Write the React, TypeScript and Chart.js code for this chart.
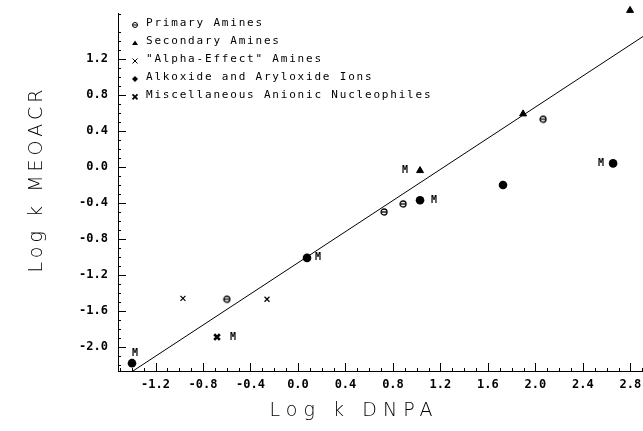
import React, { useEffect, useRef } from "react";
import { Chart, registerables } from "chart.js";
Chart.register(...registerables);

// ---- data ----
const xTicks = [-1.2, -0.8, -0.4, 0.0, 0.4, 0.8, 1.2, 1.6, 2.0, 2.4, 2.8];
const yTicks = [-2.0, -1.6, -1.2, -0.8, -0.4, 0.0, 0.4, 0.8, 1.2];
const xRange = [-1.516, 2.906];
const yRange = [-2.267, 1.711];
const minorStep = 0.1;

const primaryX = [-0.6, 0.725, 0.885, 2.064];
const primaryY = [-1.47, -0.5, -0.41, 0.53];
const secondaryX = [1.028, 1.896, 2.797];
const secondaryY = [-0.04, 0.59, 1.74];
const alphaX = [-0.969, -0.261];
const alphaY = [-1.46, -1.47];
const alkoxideX = [-1.398, 0.076, 1.028, 1.727, 2.654];
const alkoxideY = [-2.18, -1.01, -0.37, -0.2, 0.04];
const miscX = [-0.682];
const miscY = [-1.89];
const fitX = [-1.39, 2.906];
const fitY = [-2.267, 1.45];

const seriesLabels = [
  "Primary Amines",
  "Secondary Amines",
  "\"Alpha-Effect\" Amines",
  "Alkoxide and Aryloxide Ions",
  "Miscellaneous Anionic Nucleophiles",
];

// "M" annotations: [dataset index, point index, dx, dy]
const mNotes: [number, number, number, number][] = [
  [3, 0, 3, -10],
  [4, 0, 16, 0],
  [3, 1, 11, 0],
  [1, 0, -15, 0],
  [3, 2, 14, 0],
  [3, 4, -12, 0],
];

const xTitle = "Log k DNPA";
const yTitle = "Log k MEOACR";

const pts = (xs: number[], ys: number[]) => xs.map((x, i) => ({ x, y: ys[i] }));

function thetaMarker(r: number, lw: number) {
  const c = document.createElement("canvas");
  const s = Math.ceil(2 * r + lw + 2);
  c.width = s;
  c.height = s;
  const g = c.getContext("2d")!;
  g.strokeStyle = "#000";
  g.lineWidth = lw;
  g.beginPath();
  g.arc(s / 2, s / 2, r, 0, Math.PI * 2);
  g.stroke();
  g.beginPath();
  g.moveTo(s / 2 - r, s / 2);
  g.lineTo(s / 2 + r, s / 2);
  g.stroke();
  return c;
}

function drawSpaced(ctx: CanvasRenderingContext2D, text: string, cx: number, cy: number, target: number) {
  (ctx as any).letterSpacing = "0px";
  const w = ctx.measureText(text).width;
  const n = text.length;
  const ls = n > 1 ? (target - w) / (n - 1) : 0;
  (ctx as any).letterSpacing = ls + "px";
  ctx.textAlign = "left";
  ctx.textBaseline = "middle";
  ctx.fillText(text, cx - target / 2, cy);
  (ctx as any).letterSpacing = "0px";
}

function legendMarker(ctx: CanvasRenderingContext2D, kind: number, x: number, y: number) {
  ctx.save();
  ctx.strokeStyle = "#000";
  ctx.fillStyle = "#000";
  ctx.lineWidth = 1;
  ctx.beginPath();
  if (kind === 0) {
    ctx.arc(x, y, 2.5, 0, Math.PI * 2);
    ctx.moveTo(x - 2.5, y);
    ctx.lineTo(x + 2.5, y);
    ctx.stroke();
  } else if (kind === 1) {
    ctx.moveTo(x, y - 2.5);
    ctx.lineTo(x + 3, y + 2);
    ctx.lineTo(x - 3, y + 2);
    ctx.closePath();
    ctx.fill();
  } else if (kind === 2) {
    ctx.moveTo(x - 2.5, y - 2.5);
    ctx.lineTo(x + 2.5, y + 2.5);
    ctx.moveTo(x + 2.5, y - 2.5);
    ctx.lineTo(x - 2.5, y + 2.5);
    ctx.stroke();
  } else if (kind === 3) {
    ctx.moveTo(x, y - 3);
    ctx.lineTo(x + 3, y);
    ctx.lineTo(x, y + 3);
    ctx.lineTo(x - 3, y);
    ctx.closePath();
    ctx.fill();
  } else {
    ctx.lineWidth = 1.8;
    ctx.moveTo(x - 2.5, y - 2.5);
    ctx.lineTo(x + 2.5, y + 2.5);
    ctx.moveTo(x + 2.5, y - 2.5);
    ctx.lineTo(x - 2.5, y + 2.5);
    ctx.stroke();
  }
  ctx.restore();
}

const overlay = {
  id: "overlay",
  afterDatasetsDraw(chart: any) {
    const ctx: CanvasRenderingContext2D = chart.ctx;
    const xs = chart.scales.x;
    const ys = chart.scales.y;
    const { left, bottom } = chart.chartArea;
    ctx.save();
    ctx.strokeStyle = "#000";
    ctx.lineWidth = 1;
    ctx.beginPath();
    xTicks.forEach((v) => {
      const px = Math.round(xs.getPixelForValue(v)) + 0.5;
      ctx.moveTo(px, bottom);
      ctx.lineTo(px, bottom - 8);
    });
    yTicks.forEach((v) => {
      const py = Math.round(ys.getPixelForValue(v)) + 0.5;
      ctx.moveTo(left, py);
      ctx.lineTo(left + 8, py);
    });
    for (let k = Math.ceil(xRange[0] / minorStep); k * minorStep <= xRange[1]; k++) {
      const v = k * minorStep;
      if (k % 4 === 0) continue;
      const px = Math.round(xs.getPixelForValue(v)) + 0.5;
      ctx.moveTo(px, bottom);
      ctx.lineTo(px, bottom - 3);
    }
    for (let k = Math.ceil(yRange[0] / minorStep); k * minorStep <= yRange[1]; k++) {
      const v = k * minorStep;
      if (k % 4 === 0) continue;
      const py = Math.round(ys.getPixelForValue(v)) + 0.5;
      ctx.moveTo(left, py);
      ctx.lineTo(left + 3, py);
    }
    ctx.stroke();

    // M annotations
    ctx.fillStyle = "#000";
    ctx.font = "bold 10px 'DejaVu Sans Mono'";
    ctx.textAlign = "center";
    ctx.textBaseline = "middle";
    mNotes.forEach(([di, pi, dx, dy]) => {
      const el = chart.getDatasetMeta(di).data[pi];
      if (el) ctx.fillText("M", el.x + dx, el.y + dy);
    });

    // legend
    const y12 = ys.getPixelForValue(1.2);
    ctx.font = "11px 'DejaVu Sans Mono'";
    ctx.textAlign = "left";
    ctx.textBaseline = "middle";
    (ctx as any).letterSpacing = "1.8px";
    seriesLabels.forEach((lab, i) => {
      const ry = y12 + (i - 2) * 18;
      legendMarker(ctx, i, left + 17, ry + 2);
      ctx.fillText(lab, left + 28, ry);
    });
    (ctx as any).letterSpacing = "0px";

    // axis titles
    ctx.font = "200 19px 'DejaVu Sans'";
    drawSpaced(ctx, xTitle, 351, 411, 163);
    ctx.translate(37, 181);
    ctx.rotate(-Math.PI / 2);
    drawSpaced(ctx, yTitle, 0, 0, 183);
    ctx.restore();
  },
};

export default function App() {
  const ref = useRef<HTMLCanvasElement>(null);
  useEffect(() => {
    document.body.style.margin = "0";
    const canvas = ref.current!;
    const prim = thetaMarker(3, 1.3);
    const chart = new Chart(canvas, {
      type: "scatter",
      data: {
        datasets: [
          { label: seriesLabels[0], data: pts(primaryX, primaryY), pointStyle: prim as any, pointRadius: 4, clip: false as any },
          { label: seriesLabels[1], data: pts(secondaryX, secondaryY), pointStyle: "triangle", pointRadius: 4, backgroundColor: "#000", borderColor: "#000", borderWidth: 1, clip: false as any },
          { label: seriesLabels[2], data: pts(alphaX, alphaY), pointStyle: "crossRot", pointRadius: 3.5, borderColor: "#000", borderWidth: 1.2, clip: false as any },
          { label: seriesLabels[3], data: pts(alkoxideX, alkoxideY), pointStyle: "circle", pointRadius: 4.3, backgroundColor: "#000", borderColor: "#000", borderWidth: 0, clip: false as any },
          { label: seriesLabels[4], data: pts(miscX, miscY), pointStyle: "crossRot", pointRadius: 4, borderColor: "#000", borderWidth: 2.6, clip: false as any },
          { type: "line" as any, label: "fit", data: pts(fitX, fitY), borderColor: "#000", borderWidth: 1, pointRadius: 0, showLine: true, fill: false, clip: false as any },
        ],
      },
      options: {
        animation: false,
        responsive: false,
        maintainAspectRatio: false,
        layout: { autoPadding: false, padding: { top: 13, right: 0, left: 0, bottom: 0 } },
        plugins: { legend: { display: false }, tooltip: { enabled: false } },
        scales: {
          x: {
            type: "linear",
            min: xRange[0],
            max: xRange[1],
            afterBuildTicks: (s: any) => {
              s.ticks = xTicks.map((v) => ({ value: v }));
            },
            afterFit: (s: any) => {
              s.height = 60;
              s.paddingLeft = 0;
              s.paddingRight = 0;
            },
            grid: { display: false, drawTicks: false },
            border: { display: true, color: "#000", width: 1 },
            ticks: {
              padding: 7,
              color: "#000",
              font: { family: "'DejaVu Sans Mono'", size: 12, weight: "bold" },
              maxRotation: 0,
              autoSkip: false,
              callback: (v: any) => Number(v).toFixed(1),
            },
          },
          y: {
            type: "linear",
            min: yRange[0],
            max: yRange[1],
            afterBuildTicks: (s: any) => {
              s.ticks = yTicks.map((v) => ({ value: v }));
            },
            afterFit: (s: any) => {
              s.width = 118;
              s.paddingTop = 0;
              s.paddingBottom = 0;
            },
            grid: { display: false, drawTicks: false },
            border: { display: true, color: "#000", width: 1 },
            ticks: {
              padding: 10,
              color: "#000",
              font: { family: "'DejaVu Sans Mono'", size: 12, weight: "bold" },
              autoSkip: false,
              callback: (v: any) => Number(v).toFixed(1),
            },
          },
        },
      },
      plugins: [overlay],
    });
    return () => chart.destroy();
  }, []);
  return (
    <div style={{ width: 643, height: 431, background: "#fff" }}>
      <canvas ref={ref} width={643} height={431} style={{ display: "block" }} />
    </div>
  );
}
